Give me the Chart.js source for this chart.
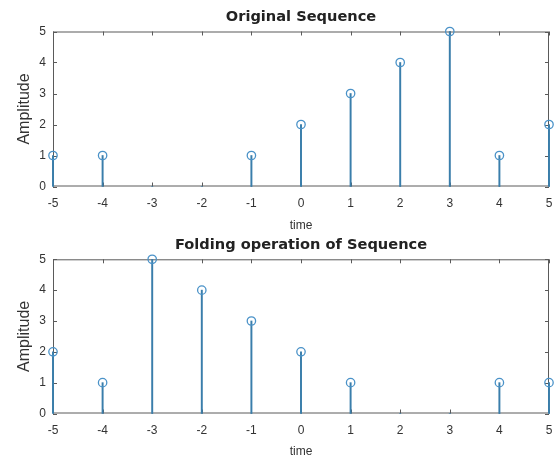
<!DOCTYPE html>
<html><head><meta charset="utf-8">
<script src="https://cdn.jsdelivr.net/npm/chart.js@4"></script>
<style>
html,body{margin:0;padding:0;background:#fff;overflow:hidden;}
#wrap{position:relative;width:557px;height:461px;}
.pane{position:absolute;left:0;width:557px;}
</style></head><body>
<div id="wrap">
<div class="pane" style="top:0;height:232px"><canvas id="c1"></canvas></div>
<div class="pane" style="top:232px;height:229px"><canvas id="c2"></canvas></div>
</div>
<script>
const timeIndex = [-5,-4,-3,-2,-1,0,1,2,3,4,5];
const originalValues = [1,1,0,0,1,2,3,4,5,1,2];
const foldedValues = [2,1,5,4,3,2,1,0,0,1,1];
const xRange = [-5, 5];
const yRange = [0, 5];
const panelTitles = ['Original Sequence', 'Folding operation of Sequence'];
const xAxisLabel = 'time';
const yAxisLabel = 'Amplitude';

const STEM = '#3a7eab';
const MARK = '#4a92c8';
const AXIS = '#5a5a5a';
const TEXT = '#333333';

const boxPlugin = {
  id: 'box',
  beforeDatasetsDraw(chart) {
    const {ctx, chartArea: a, scales: {x, y}} = chart;
    ctx.save();
    ctx.strokeStyle = AXIS;
    ctx.lineWidth = 1;
    ctx.strokeRect(a.left + 0.5, a.top + 0.5, a.width - 1, a.height - 1);
    const L = 4;
    ctx.beginPath();
    x.ticks.forEach(t => {
      const px = Math.round(x.getPixelForValue(t.value)) + 0.5;
      ctx.moveTo(px, a.top); ctx.lineTo(px, a.top + L);
      ctx.moveTo(px, a.bottom); ctx.lineTo(px, a.bottom - L);
    });
    y.ticks.forEach(t => {
      const py = Math.round(y.getPixelForValue(t.value)) + 0.5;
      ctx.moveTo(a.left, py); ctx.lineTo(a.left + L, py);
      ctx.moveTo(a.right, py); ctx.lineTo(a.right - L, py);
    });
    ctx.stroke();
    ctx.restore();
  },
  afterDraw(chart, args, opts) {
    const {ctx, chartArea: a} = chart;
    ctx.save();
    ctx.fillStyle = '#222';
    ctx.font = 'bold 14.6px "DejaVu Sans"';
    ctx.textAlign = 'center';
    ctx.textBaseline = 'alphabetic';
    ctx.fillText(opts.text, (a.left + a.right) / 2, opts.baseline);
    ctx.restore();
  }
};

function makeChart(id, values, title, cfg) {
  const pts = timeIndex.map((t, i) => ({x: t, y: values[i]}));
  return new Chart(document.getElementById(id), {
    type: 'bar',
    data: {
      datasets: [
        {
          type: 'scatter', data: pts, order: 0, clip: false,
          pointStyle: 'circle',
          pointRadius: c => (c.raw && c.raw.y === 0) ? 0 : 4.2,
          pointBorderWidth: 1.3,
          pointBorderColor: MARK,
          pointBackgroundColor: 'rgba(255,255,255,0)',
          showLine: false
        },
        {
          type: 'bar', data: pts, order: 1, clip: false,
          backgroundColor: STEM, borderWidth: 0,
          barThickness: 1.3, base: 0
        }
      ]
    },
    options: {
      responsive: true, maintainAspectRatio: false, animation: false,
      layout: {padding: {left: 0, right: 8, top: cfg.areaTop, bottom: 0}},
      plugins: {
        legend: {display: false}, tooltip: {enabled: false},
        title: {display: false},
        box: {text: title, baseline: cfg.titleBaseline}
      },
      scales: {
        x: {
          type: 'linear', min: xRange[0], max: xRange[1], offset: false,
          grid: {display: false, drawTicks: false}, border: {display: false},
          ticks: {stepSize: 1, color: TEXT, padding: 10, maxRotation: 0,
                  font: {family: 'Liberation Sans', size: 12}},
          title: {display: true, text: xAxisLabel, color: TEXT,
                  font: {family: 'Liberation Sans', size: 12},
                  padding: {top: 0, bottom: cfg.timePad}},
          afterFit: s => { s.height = cfg.xHeight; s.paddingRight = 0; s.paddingLeft = 0; }
        },
        y: {
          min: yRange[0], max: yRange[1],
          grid: {display: false, drawTicks: false}, border: {display: false},
          ticks: {stepSize: 1, color: TEXT, padding: 7,
                  font: {family: 'Liberation Sans', size: 12}},
          title: {display: true, text: yAxisLabel, color: TEXT,
                  font: {family: 'Liberation Sans', size: 16},
                  padding: {top: 14.5, bottom: 0}},
          afterFit: s => { s.width = 53; }
        }
      }
    },
    plugins: [boxPlugin]
  });
}

makeChart('c1', originalValues, panelTitles[0],
  {areaTop: 31.5, titleBaseline: 21, xHeight: 45.5, timePad: -1});
makeChart('c2', foldedValues, panelTitles[1],
  {areaTop: 27.3, titleBaseline: 17, xHeight: 47.5, timePad: 2.5});
</script>
</body></html>
